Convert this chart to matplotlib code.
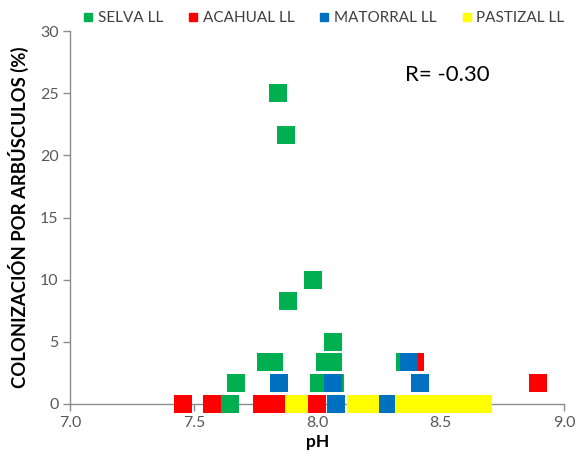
import matplotlib
matplotlib.use("Agg")
import matplotlib.pyplot as plt
from matplotlib.lines import Line2D

plt.rcParams['font.family'] = ['Lato', 'DejaVu Sans']

# Arbuscular colonization (%) against soil pH, by land-use type
selva_ph = [7.842, 7.874, 7.883, 7.984, 8.065, 7.672, 7.794, 7.826, 8.032,
            8.065, 8.008, 8.073, 7.648, 8.356]
selva_col = [25.0, 21.6, 8.3, 10.0, 5.0, 1.7, 3.4, 3.4, 3.4,
             3.4, 1.7, 1.7, 0.0, 3.4]

acahual_ph = [7.456, 7.575, 7.777, 7.834, 8.0, 8.397, 8.895]
acahual_col = [0.0, 0.0, 0.0, 0.0, 0.0, 3.4, 1.7]

matorral_ph = [7.845, 8.065, 8.077, 8.288, 8.414, 8.373]
matorral_col = [1.7, 1.7, 0.0, 0.0, 1.7, 3.4]

pastizal_ph = [7.907, 7.927, 8.158, 8.215, 8.35, 8.41, 8.47, 8.53, 8.59,
               8.64, 8.672]
pastizal_col = [0.0] * 11

series = [
    ("SELVA LL", selva_ph, selva_col, "#00B050"),
    ("ACAHUAL LL", acahual_ph, acahual_col, "#FF0000"),
    ("MATORRAL LL", matorral_ph, matorral_col, "#0070C0"),
    ("PASTIZAL LL", pastizal_ph, pastizal_col, "#FFFF00"),
]

x_ticks = [7.0, 7.5, 8.0, 8.5, 9.0]
y_ticks = [0, 5, 10, 15, 20, 25, 30]

fig = plt.figure(figsize=(5.77, 4.57), dpi=100)
ax = fig.add_axes([0.122, 0.116, 0.856, 0.816])

for name, xs, ys, color in series:
    ax.plot(xs, ys, linestyle="none", marker="s", markersize=13.4,
            markerfacecolor=color, markeredgecolor=color,
            markeredgewidth=0.0, clip_on=False, zorder=3)

ax.set_xlim(7.0, 9.0)
ax.set_ylim(0, 30)
ax.set_xticks(x_ticks)
ax.set_xticklabels([f"{t:.1f}" for t in x_ticks])
ax.set_yticks(y_ticks)

for side in ("top", "right"):
    ax.spines[side].set_visible(False)
for side in ("left", "bottom"):
    ax.spines[side].set_color("#8c8c8c")
    ax.spines[side].set_linewidth(1.0)
ax.tick_params(axis="both", colors="#8c8c8c", length=5, width=1.0,
               labelcolor="#595959", labelsize=11.5)

ax.set_xlabel("pH", fontsize=12.5, fontweight="bold", color="black",
              labelpad=3)
ax.set_ylabel("COLONIZACIÓN POR ARBÚSCULOS (%)", fontsize=13.3,
              fontweight="bold", color="black", labelpad=8)

ax.text(0.678, 0.883, "R= -0.30", transform=ax.transAxes, fontsize=16,
        color="black", va="center", ha="left")

handles = [Line2D([], [], linestyle="none", marker="s", markersize=6,
                  markerfacecolor=c, markeredgecolor=c, label=n)
           for n, _, _, c in series]
fig.legend(handles=handles, loc="center", bbox_to_anchor=(0.56, 0.96),
           ncol=4, frameon=False, fontsize=11, handletextpad=0.25,
           columnspacing=1.55, handlelength=0.8, labelcolor="#404040")

fig.savefig("out.png", dpi=100)
